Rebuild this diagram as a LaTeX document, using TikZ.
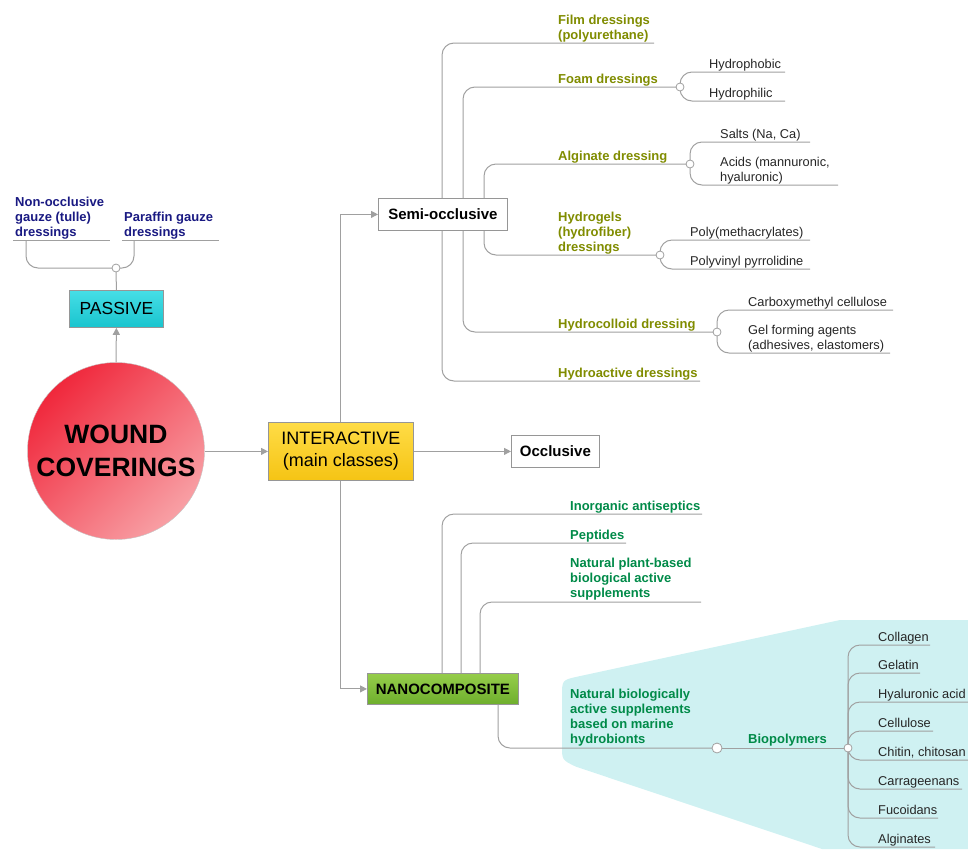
\documentclass[tikz,border=0pt]{standalone}
\usepackage{fontspec}
\setmainfont{Liberation Sans}
\usetikzlibrary{arrows.meta,shapes.geometric}
\definecolor{lin}{RGB}{160,160,160}
\definecolor{olivetxt}{RGB}{128,140,0}
\definecolor{greentxt}{RGB}{0,138,72}
\definecolor{navytxt}{RGB}{25,25,130}
\definecolor{cyanbg}{RGB}{207,241,242}
\definecolor{boxline}{RGB}{150,150,150}
\begin{document}
\begin{tikzpicture}[x=1pt,y=-1pt,
  br/.style={draw=lin, line width=1pt, rounded corners=12pt},
  conn/.style={draw=lin, line width=1pt, -{Triangle[length=7pt,width=7pt]}},
  lbl/.style={inner sep=0pt, anchor=base west, align=left, text depth=0pt,
    font=\fontsize{13}{15}\selectfont\bfseries},
  oliv/.style={lbl, text=olivetxt},
  grn/.style={lbl, text=greentxt},
  nav/.style={lbl, text=navytxt},
  subl/.style={inner sep=0pt, anchor=base west, align=left, text depth=0pt,
    font=\fontsize{12.8}{15}\selectfont, text=black!85},
  jn/.style={circle, draw=lin, fill=white, inner sep=0pt, minimum size=8pt, line width=0.8pt},
  mbox/.style={draw=boxline, line width=0.8pt, inner sep=0pt, align=center, anchor=north west}
]
\useasboundingbox (0,0) rectangle (968,849);

% cyan background region
\fill[cyanbg] (968,849) -- (968,620) -- (840,620) -- (578,676.5)
  .. controls (562,680) .. (562,696) -- (562,746)
  .. controls (562,760) .. (576,766.7) -- (822,849) -- cycle;

% main nodes
\node[circle, minimum size=177pt, inner sep=0pt, draw=lin!60, line width=0.4pt,
  top color={rgb,255:red,240;green,40;blue,60}, bottom color={rgb,255:red,248;green,160;blue,165}, shading angle=45,
  align=center, font=\fontsize{26.5}{33}\selectfont\bfseries] (wound) at (116,451) {WOUND\\COVERINGS};
\node[mbox, minimum width=94pt, minimum height=37pt,
  top color={rgb,255:red,70;green,222;blue,230}, bottom color={rgb,255:red,25;green,196;blue,206},
  font=\fontsize{17.5}{20}\selectfont] (passive) at (69,290) {PASSIVE};
\node[mbox, minimum width=145pt, minimum height=58pt,
  top color={rgb,255:red,255;green,220;blue,70}, bottom color={rgb,255:red,245;green,196;blue,20},
  font=\fontsize{18}{22}\selectfont] (inter) at (268,422) {INTERACTIVE\\(main classes)};
\node[mbox, minimum width=88pt, minimum height=32pt, fill=white,
  font=\fontsize{15}{17}\selectfont\bfseries] (occl) at (511,435) {Occlusive};
\node[mbox, minimum width=129pt, minimum height=32pt, fill=white,
  font=\fontsize{15}{17}\selectfont\bfseries] (semi) at (378,198) {Semi-occlusive};
\node[mbox, minimum width=151pt, minimum height=31pt,
  top color={rgb,255:red,150;green,205;blue,75}, bottom color={rgb,255:red,110;green,175;blue,45},
  font=\fontsize{15}{17}\selectfont\bfseries] (nano) at (367,673) {NANOCOMPOSITE};

% main arrows
\draw[conn] (wound.north) -- (passive.south);
\draw[conn] (inter.west -| wound.east) -- (inter.west);
\draw[conn] (inter.east) -- (occl.west);
\draw[conn] (inter.north) |- (semi.west);
\draw[conn] (inter.south) |- (nano.west);

% ---------- PASSIVE branch ----------
\coordinate (jp) at (116,268);
\draw[br] (passive.north) -- (jp);
\draw[br] (jp) -| (26,240);
\draw[br] (13,240) -- (110,240);
\draw[br] (jp) -| (134,240);
\draw[br] (122,240) -- (219,240);
\node[jn] at (jp) {};
\node[nav] (nonocc) at (15,236) {Non-occlusive\\gauze (tulle)\\dressings};
\node[nav] (paraf) at (124,236) {Paraffin gauze\\dressings};

% ---------- SEMI-OCCLUSIVE branches ----------
\coordinate (sA) at ([xshift=64pt]semi.north west);
\coordinate (sB) at ([xshift=85pt]semi.north west);
\coordinate (sC) at ([xshift=106pt]semi.north west);
\coordinate (sD) at ([xshift=106pt]semi.south west);
\coordinate (sE) at ([xshift=85pt]semi.south west);
\coordinate (sF) at ([xshift=64pt]semi.south west);

\coordinate (jfoam) at (680,87);
\coordinate (jalg) at (690,164);
\coordinate (jgel) at (660,255);
\coordinate (jcol) at (717,332);

\draw[br] (sA) |- (654,43);
\draw[br] (sB) |- (jfoam);
\draw[br] (sC) |- (jalg);
\draw[br] (sD) |- (jgel);
\draw[br] (sE) |- (jcol);
\draw[br] (sF) |- (700,381);

\node[oliv] (film) at (558,39) {Film dressings\\(polyurethane)};
\node[oliv] (foam) at (558,83) {Foam dressings};
\node[oliv] (alg) at (558,160) {Alginate dressing};
\node[oliv] (hgel) at (558,251) {Hydrogels\\(hydrofiber)\\dressings};
\node[oliv] (hcol) at (558,328) {Hydrocolloid dressing};
\node[oliv] (hact) at (558,377) {Hydroactive dressings};

% sub-branches
\draw[br] (jfoam) |- (785,72);
\draw[br] (jfoam) |- (785,101);
\draw[br] (jalg) |- (810,142);
\draw[br] (jalg) |- (838,185);
\draw[br] (jgel) |- (810,240);
\draw[br] (jgel) |- (810,269);
\draw[br] (jcol) |- (893,310);
\draw[br] (jcol) |- (890,353);
\foreach \j in {jfoam,jalg,jgel,jcol} \node[jn] at (\j) {};

\node[subl] (hphob) at (709,68) {Hydrophobic};
\node[subl] (hphil) at (709,97) {Hydrophilic};
\node[subl] (salts) at (720,138) {Salts (Na, Ca)};
\node[subl] (acids) at (720,181) {Acids (mannuronic,\\hyaluronic)};
\node[subl] (pmeth) at (690,236) {Poly(methacrylates)};
\node[subl] (pvp) at (690,265) {Polyvinyl pyrrolidine};
\node[subl] (cmc) at (748,306) {Carboxymethyl cellulose};
\node[subl] (gelf) at (748,349) {Gel forming agents\\(adhesives, elastomers)};

% ---------- NANOCOMPOSITE branches ----------
\coordinate (nA) at ([xshift=75pt]nano.north west);
\coordinate (nB) at ([xshift=94pt]nano.north west);
\coordinate (nC) at ([xshift=113pt]nano.north west);
\coordinate (nD) at ([xshift=131pt]nano.south west);
\coordinate (jnat) at (717,748);
\coordinate (jbio) at (848,748);

\draw[br] (nA) |- (702,514);
\draw[br] (nB) |- (626,543);
\draw[br] (nC) |- (701,602);
\draw[br] (nD) |- (jnat);
\draw[br] (jnat) -- (jbio);

\node[grn] (inorg) at (570,510) {Inorganic antiseptics};
\node[grn] (pept) at (570,539) {Peptides};
\node[grn] (plant) at (570,597) {Natural plant-based\\biological active\\supplements};
\node[grn] (natbio) at (570,743) {Natural biologically\\active supplements\\based on marine\\hydrobionts};
\node[grn] (biopol) at (748,743) {Biopolymers};

\draw[br] (jbio) |- (930,645);
\draw[br] (jbio) |- (920,673);
\draw[br] (jbio) |- (968,702);
\draw[br] (jbio) |- (933,731);
\draw[br] (jbio) |- (968,760);
\draw[br] (jbio) |- (962,789);
\draw[br] (jbio) |- (938,818);
\draw[br] (jbio) |- (935,847);
\node[jn, minimum size=10pt] at (jnat) {};
\node[jn] at (jbio) {};

\node[subl] (coll) at (878,641) {Collagen};
\node[subl] (gelat) at (878,669) {Gelatin};
\node[subl] (hyal) at (878,698) {Hyaluronic acid};
\node[subl] (cell) at (878,727) {Cellulose};
\node[subl] (chit) at (878,756) {Chitin, chitosan};
\node[subl] (carr) at (878,785) {Carrageenans};
\node[subl] (fuco) at (878,814) {Fucoidans};
\node[subl] (algn) at (878,843) {Alginates};
\end{tikzpicture}
\end{document}
